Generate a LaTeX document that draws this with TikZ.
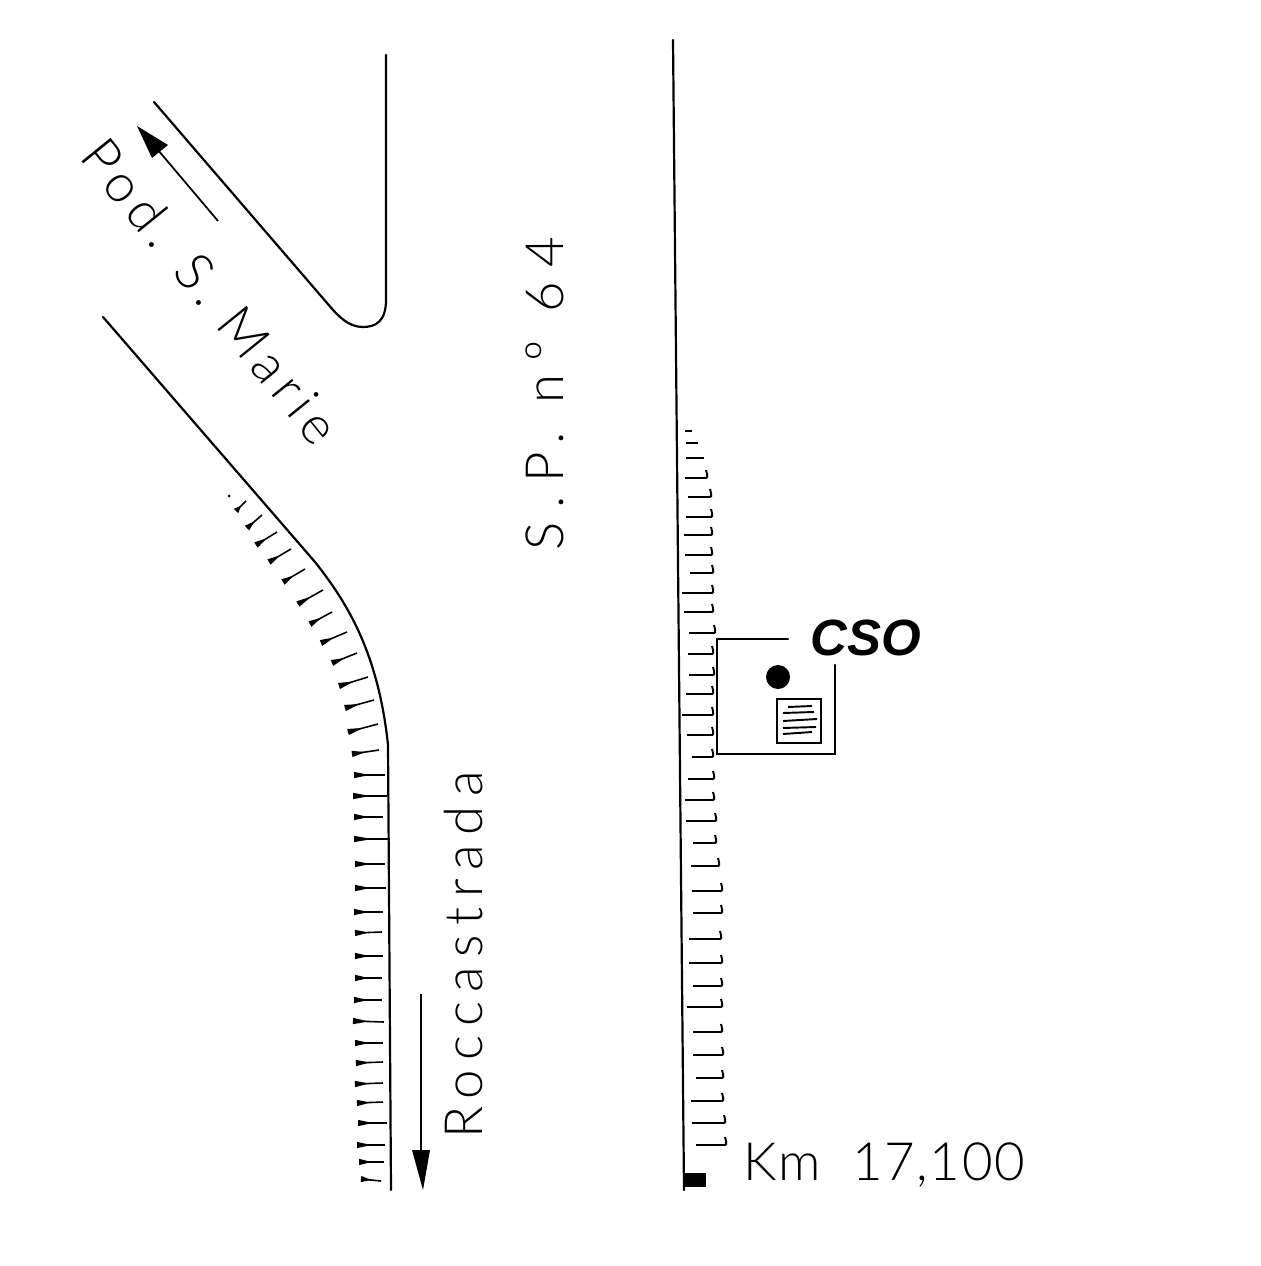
\documentclass[tikz,border=0pt]{standalone}
\usepackage{fontspec}
\newfontfamily\handfont{Lato Light}
\newfontfamily\labelfont{Liberation Sans}
\usetikzlibrary{calc}
\tikzset{
  road/.style={black,line width=1.25pt,line cap=round},
  thin road/.style={black,line width=1pt},
  handtext/.style={font=\handfont\fontsize{30}{30}\selectfont},
  csotext/.style={font=\labelfont\bfseries\itshape\fontsize{29}{29}\selectfont}
}
\begin{document}
\begin{tikzpicture}[x=0.02cm,y=0.02cm]
\tikzstyle{every node}+=[inner sep=0pt]
\useasboundingbox (0,0) rectangle (1260,-1266);
% roads
\draw [road] (386,-55) -- (386,-300) .. controls (386,-322) and (375,-327) .. (363,-327) .. controls (348,-327) and (338,-316) .. (327,-303) -- (154,-102);
\draw [road] (103,-317) -- (315,-562) .. controls (345,-600) and (378,-650) .. (388,-745) -- (391,-1190);
\draw [road] (673,-40) -- (684,-1190);
\fill [black] (683,-1173) rectangle (706,-1187);
% direction arrows
\draw [thin road] (218,-221) -- (158,-150);
\fill [black] (137,-126) -- (168,-145) -- (152,-158) -- cycle;
\draw [thin road] (421,-994) -- (421,-1150);
\fill [black] (423,-1190) -- (412,-1150) -- (430,-1150) -- cycle;
% left verge
\fill [black] (229,-496) circle (1.5);
\foreach \xa/\ya/\xb/\yb in {236/511/246/501,247/528/262/515,256/545/277/532,269/562/291/549,283/582/305/569,298/604/323/590,310/624/332/612,321/643/347/632,332/663/357/653,339/686/368/677,345/708/374/700,348/732/378/724,352/754/379/750,354/775/385/775,353/796/387/796,354/817/383/817,354/839/390/839,355/864/385/864,355/888/386/888,354/912/383/912,355/933/382/932,355/956/383/956,355/978/382/978,354/1000/382/1000,353/1021/384/1022,355/1043/383/1043,356/1063/383/1062,355/1084/383/1083,357/1103/383/1102,358/1123/387/1123,357/1145/385/1145,359/1162/384/1162,361/1179/381/1181}{
  \draw [black,line width=0.9pt] (\xa,-\ya) -- (\xb,-\yb);
  \fill [black] ($(\xa,-\ya)!1.8pt!90:(\xb,-\yb)$) -- ($(\xa,-\ya)!0.5!(\xb,-\yb)$) -- ($(\xa,-\ya)!1.8pt!-90:(\xb,-\yb)$) -- cycle;
}
% right verge
\draw [black,line width=1.5pt] (685,-431) -- (692,-431);
\draw [black,line width=1.5pt] (686,-443) -- (698,-443);
\draw [black,line width=1.5pt] (686,-458) -- (704,-458);
\foreach \y/\xa/\xb in {478/685/707,497/688/711,517/686/712,535/684/712,555/685/712,573/690/713,593/682/713,612/684/713,633/689/715,654/688/713,675/689/714,694/686/713,715/682/713,735/687/713,757/692/713,779/688/714,800/685/714,821/686/716,843/693/716,866/691/719,891/692/722,913/693/722,939/689/721,963/689/722,986/693/722,1007/687/722,1032/693/722,1055/693/723,1078/696/723,1101/691/723,1123/692/725,1145/696/726}
  \draw [black,line width=1.1pt] (\xa,-\y) -- ({\xb-3},-\y) .. controls ({\xb+1},-\y) .. ({\xb-1},{-\y+8});
% site
\draw [road] (788,-639) -- (717,-639) -- (717,-754) -- (835,-754) -- (835,-665);
\fill [black] (778,-677) circle (12);
\draw [road] (777,-699) rectangle (821,-743);
\foreach \xa/\ya/\xb/\yb in {788/707/812/706,783/713/814/712,783/721/817/719,783/728/816/727,783/734/812/732}
  \draw [black,line width=1.1pt] (\xa,-\ya) -- (\xb,-\yb);
% labels
\node [csotext] (cso) at (866,-638) {CSO};
\node [handtext,rotate=-51] (marie) at (211,-291) {\addfontfeature{LetterSpace=13}Pod. S. Marie};
\node [handtext,rotate=90] (sp) at (545,-394) {\addfontfeature{LetterSpace=26}S.P. nº 64};
\node [handtext,rotate=90] (rocca) at (464,-955) {\addfontfeature{LetterSpace=18}Roccastrada};
\node [handtext] (km) at (884,-1165) {\addfontfeature{LetterSpace=3}Km~~17,100};
\end{tikzpicture}
\end{document}
